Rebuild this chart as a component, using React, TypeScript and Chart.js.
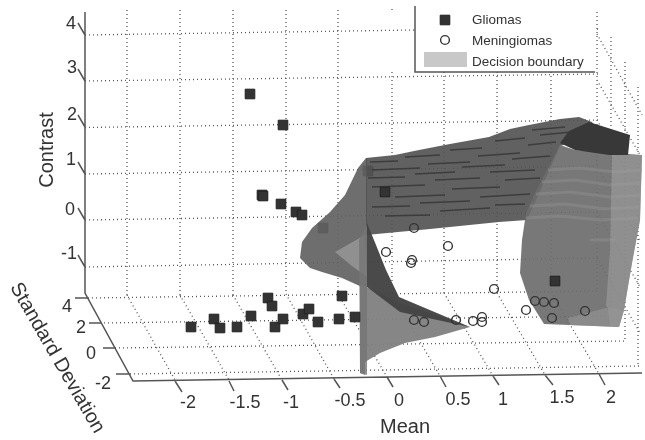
import React, { useEffect, useRef } from "react";
import { Chart, registerables } from "chart.js";
Chart.register(...registerables);

type P = [number, number];
const GAP: P = [NaN, NaN];

// Everything below in the figure's projected plane.
const contrastTicks = ["4", "3", "2", "1", "0", "-1"];
const contrastTickAnchor: P[] = [[71, 24], [72, 68], [72, 115], [71, 160], [70, 210], [69, 254]];
const stdTicks = ["4", "2", "0", "-2"];
const stdTickAnchor: P[] = [[67, 307], [81, 328], [91, 354], [103, 384]];
const meanTicks = ["-2", "-1.5", "-1", "-0.5", "0", "0.5", "1", "1.5", "2"];
const meanTickAnchor: P[] = [[188, 403], [245, 403], [291, 403], [350, 401], [399, 401], [458, 400], [503, 400], [562, 398], [611, 398]];

const gliomas: P[] = [
  [250, 94], [283, 125], [262, 195], [263, 196], [281, 204], [296, 212], [302, 215],
  [191, 327], [214, 319], [220, 328], [237, 327], [251, 316], [268, 298], [272, 306],
  [275, 327], [283, 319], [303, 314], [309, 309], [318, 322], [339, 319], [342, 296], [355, 317],
  [385, 192], [555, 281],
];
const gliomasBehind: P[] = [[368, 171], [323, 228]];
const meningiomas: P[] = [
  [414, 228], [448, 246], [386, 252], [412, 260], [411, 263], [494, 289], [535, 301], [544, 302],
  [554, 303], [526, 310], [585, 311], [552, 318], [414, 320], [424, 322], [456, 320], [473, 321],
  [482, 317], [482, 322],
];

const gridLines: P[] = [
  // back wall rows
  [85, 35], [415, 30], GAP, [598, 29], [597, 29], GAP,
  [85, 81], [598, 74], GAP,
  [85, 127.5], [598, 120], GAP,
  [85, 174], [598, 166], GAP,
  [85, 220], [598, 212], GAP,
  [85, 267], [598, 258], GAP,
  // back wall columns
  [127, 10], [127, 295], GAP, [180, 10], [180, 295], GAP, [233, 10], [233, 295], GAP,
  [286, 10], [286, 294], GAP, [338, 10], [338, 294], GAP, [392, 10], [392, 6], GAP, [392, 72], [392, 294], GAP,
  [444, 72], [444, 293], GAP, [497, 72], [497, 293], GAP, [551, 72], [551, 292], GAP, [597, 12], [597, 292], GAP,
  // floor rows
  [88, 298], [598, 291], GAP, [100, 323], [611, 316], GAP, [115, 348], [625, 341], GAP, [130, 374], [639, 366], GAP,
  // floor columns
  [127, 295], [175, 380], GAP, [180, 295], [229, 380], GAP, [233, 295], [282, 380], GAP, [286, 294], [334, 379], GAP,
  [338, 294], [387, 377], GAP, [392, 294], [440, 376], GAP, [444, 293], [493, 376], GAP, [497, 293], [545, 375], GAP,
  [551, 292], [599, 374], GAP,
  // right wall rows
  [597, 34], [642, 115], GAP, [597, 80], [640, 155], GAP, [597, 120], [640, 196], GAP, [597, 166], [640, 241], GAP,
  [597, 212], [640, 287], GAP, [597, 258], [640, 333], GAP,
  // right wall columns
  [611, 37], [611, 316], GAP, [625, 62], [625, 341], GAP, [638, 87], [638, 366],
];
const axisLines: P[] = [
  [85, 12], [85, 293], [133, 381], [642, 373], GAP,
  [78, 23], [85, 35], GAP, [78, 69], [85, 81], GAP, [78, 115], [85, 127], GAP, [78, 162], [85, 174], GAP, [78, 208], [85, 220], GAP, [78, 255], [85, 267], GAP,
  [75, 298], [88, 298], GAP, [89, 323], [100, 323], GAP, [103, 348], [115, 348], GAP, [116, 374], [130, 374], GAP,
  [175, 381], [182, 392], GAP, [229, 381], [234, 391], GAP, [282, 380], [288, 390], GAP, [334, 379], [340, 388], GAP,
  [387, 377], [393, 387], GAP, [440, 376], [446, 387], GAP, [493, 376], [499, 385], GAP, [545, 375], [553, 385], GAP, [599, 374], [605, 385],
];
const legendFrame: P[] = [[415, 6], [415, 72], [595, 72]];

const wing: P[] = [[366, 158], [358, 168], [345, 195], [330, 212], [312, 228], [302, 242], [300, 258], [310, 268], [322, 272], [342, 278], [362, 287], [367, 287], [367, 158]];
const wingLight: P[] = [[335, 252], [365, 235], [367, 277], [352, 266]];
const roof: P[] = [[366, 158], [395, 155], [419, 150], [450, 144], [489, 137], [510, 129], [529, 125], [560, 119], [579, 117], [592, 122], [600, 135], [560, 146], [545, 180], [527, 220], [499, 222], [430, 229], [366, 235]];
const roofStreaks: P[] = [
  [370, 162], [398, 161], GAP, [405, 157], [440, 155], GAP, [450, 150], [482, 148], GAP, [495, 141], [525, 138], GAP, [532, 130], [565, 127], GAP,
  [372, 170], [420, 168], GAP, [428, 164], [470, 162], GAP, [478, 156], [520, 153], GAP, [528, 145], [556, 142], GAP, [540, 135], [572, 132], GAP,
  [368, 178], [405, 177], GAP, [415, 174], [455, 172], GAP, [462, 167], [505, 165], GAP, [512, 159], [550, 156], GAP,
  [372, 187], [425, 185], GAP, [435, 180], [480, 178], GAP, [490, 172], [535, 170], GAP,
  [395, 197], [445, 195], GAP, [452, 189], [500, 187], GAP, [505, 180], [540, 178], GAP,
  [372, 207], [410, 206], GAP, [420, 203], [470, 201], GAP, [480, 197], [530, 194], GAP,
  [385, 216], [430, 215], GAP, [440, 211], [490, 208], GAP, [495, 205], [525, 204], GAP,
];
const blade: P[] = [[367, 223], [376, 245], [386, 270], [399, 297], [470, 327], [400, 312], [367, 287]];
const bladeLower: P[] = [[360, 284], [400, 303], [470, 327], [435, 337], [405, 343], [380, 353], [365, 362], [365, 375], [360, 373]];
const sliver: P[] = [[359, 240], [367, 225], [367, 375], [360, 373]];
const cylinder: P[] = [[560, 145], [575, 150], [599, 152], [642, 155], [640, 220], [632, 263], [624, 310], [619, 327], [544, 324], [529, 300], [520, 273], [522, 240], [526, 213], [535, 193]];
const cylinderRight: P[] = [[612, 155], [642, 155], [640, 220], [632, 263], [624, 310], [619, 327], [610, 326], [608, 308], [606, 306], [610, 250]];
const cylinderFoot: P[] = [[568, 318], [606, 308], [624, 310], [619, 327], [570, 325]];
const cylinderBands: P[] = [
  [548, 170], [580, 168], [615, 172], [642, 170], GAP,
  [542, 182], [575, 180], [610, 185], [640, 183], GAP,
  [536, 194], [570, 192], [610, 197], [640, 195], GAP,
  [530, 206], [565, 204], [605, 209], [639, 207], GAP,
  [526, 218], [560, 216], [600, 220], [638, 218], GAP,
  [590, 240], [615, 240], GAP,
];
const cap: P[] = [[560, 143], [569, 131], [589, 122], [630, 135], [628, 155], [609, 155], [575, 150]];
const legendSwatch: P[] = [[424, 52], [467, 52], [467, 67], [424, 67]];
const legendGlioma: P[] = [[445, 20]];
const legendMeningioma: P[] = [[445, 40]];

const pts = (a: P[]) => a.map(([x, y]) => ({ x, y }));
const line = (data: P[], color: string, width: number, dash: number[] = []) => ({
  data: pts(data), showLine: true, borderColor: color, borderWidth: width, borderDash: dash,
  pointRadius: 0, fill: false, tension: 0,
});
const area = (data: P[], color: string) => ({
  data: pts([...data, data[0]]), showLine: true, borderColor: "rgba(0,0,0,0)", borderWidth: 0,
  backgroundColor: color, pointRadius: 0, fill: "shape", tension: 0,
});
const squares = (data: P[]) => ({
  data: pts(data), showLine: false, pointStyle: "rect", pointRadius: 6.8,
  backgroundColor: "#333333", borderColor: "#222222", borderWidth: 1,
});
const circles = (data: P[]) => ({
  data: pts(data), showLine: false, pointStyle: "circle", pointRadius: 4.4,
  backgroundColor: "rgba(0,0,0,0)", borderColor: "#333333", borderWidth: 1.4,
});

const textPlugin = {
  id: "figureText",
  afterDraw(chart: any) {
    const { ctx, scales } = chart;
    const sx = (v: number) => scales.x.getPixelForValue(v);
    const sy = (v: number) => scales.y.getPixelForValue(v);
    const put = (t: string, x: number, y: number, size: number, rot = 0, align: CanvasTextAlign = "center") => {
      ctx.save();
      ctx.translate(sx(x), sy(y));
      ctx.rotate(rot);
      ctx.font = `${size}px "Liberation Sans"`;
      ctx.fillStyle = "#333333";
      ctx.textAlign = align;
      ctx.textBaseline = "middle";
      ctx.fillText(t, 0, 0);
      ctx.restore();
    };
    contrastTicks.forEach((t, i) => put(t, contrastTickAnchor[i][0], contrastTickAnchor[i][1], 18));
    stdTicks.forEach((t, i) => put(t, stdTickAnchor[i][0], stdTickAnchor[i][1], 18));
    meanTicks.forEach((t, i) => put(t, meanTickAnchor[i][0], meanTickAnchor[i][1], 18));
    put("Contrast", 47, 150, 20, -Math.PI / 2);
    put("Standard Deviation", 57, 358, 20, (60 * Math.PI) / 180);
    put("Mean", 405, 427, 20);
    put("Gliomas", 472, 20, 13.5, 0, "left");
    put("Meningiomas", 472, 41, 13.5, 0, "left");
    put("Decision boundary", 472, 62, 13.5, 0, "left");
  },
};

export default function App() {
  const ref = useRef<HTMLCanvasElement>(null);
  useEffect(() => {
    const layers: any[] = [
      line(gridLines, "#555555", 1.3, [1, 3]),
      squares(gliomasBehind),
      area(wing, "rgba(98,98,98,0.92)"),
      area(wingLight, "rgba(150,150,150,0.85)"),
      area(roof, "rgba(84,84,84,0.92)"),
      line(roofStreaks, "rgba(45,45,45,0.7)", 1.3),
      area(bladeLower, "rgba(128,128,128,0.95)"),
      area(blade, "rgba(68,68,68,0.97)"),
      area(sliver, "rgba(118,118,118,0.8)"),
      area(cylinder, "rgba(108,108,108,0.92)"),
      line(cylinderBands, "rgba(140,140,140,0.55)", 3),
      area(cylinderRight, "rgba(165,165,165,0.5)"),
      area(cylinderFoot, "rgba(150,150,150,0.6)"),
      area(cap, "#383838"),
      line(axisLines, "#555555", 1.5),
      squares(gliomas),
      circles(meningiomas),
      { ...line(legendFrame, "#555555", 1.5) },
      area(legendSwatch, "#c8c8c8"),
      squares(legendGlioma),
      circles(legendMeningioma),
    ];
    const n = layers.length;
    const chart = new Chart(ref.current as HTMLCanvasElement, {
      type: "scatter",
      data: { datasets: layers.map((d, i) => ({ ...d, order: n - i })) },
      options: {
        animation: false,
        responsive: false,
        layout: { padding: 0, autoPadding: false },
        plugins: { legend: { display: false }, tooltip: { enabled: false } },
        scales: {
          x: { type: "linear", min: 0, max: 645, display: false },
          y: { type: "linear", min: 0, max: 440, reverse: true, display: false },
        },
      },
      plugins: [textPlugin],
    } as any);
    return () => chart.destroy();
  }, []);
  return (
    <div style={{ position: "absolute", left: 0, top: 0, width: 645, height: 440, overflow: "hidden", background: "#fff" }}>
      <canvas ref={ref} width={645} height={440} style={{ display: "block", filter: "blur(0.45px)" }} />
    </div>
  );
}
